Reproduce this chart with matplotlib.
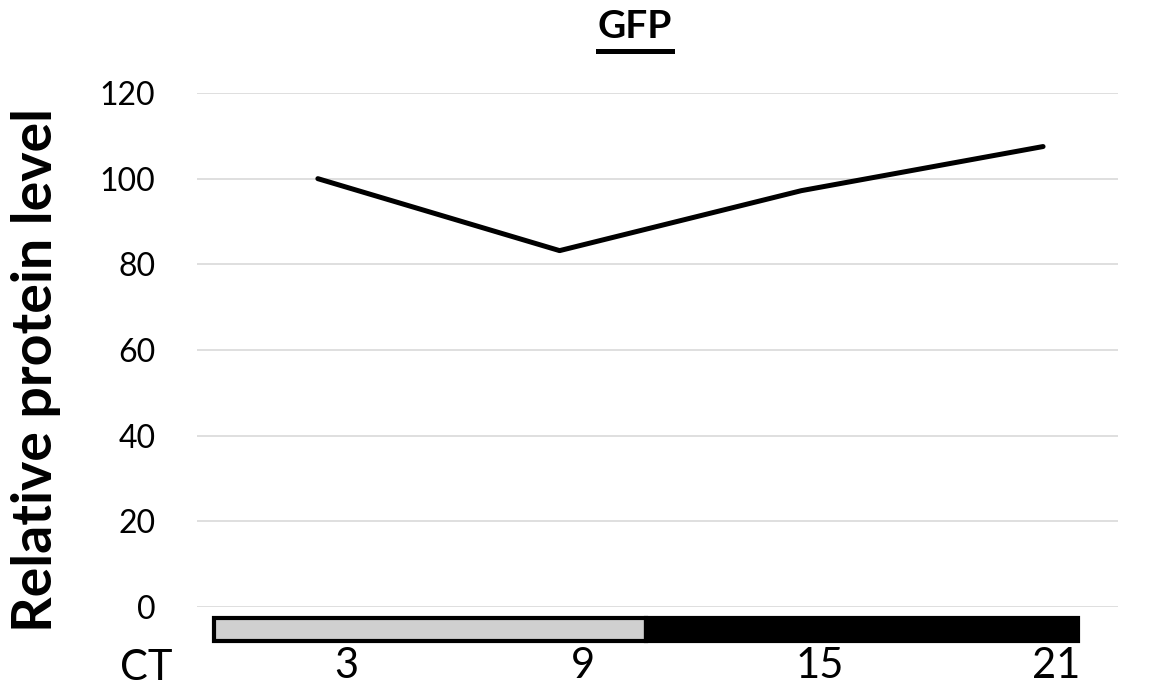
import matplotlib
matplotlib.use("Agg")
import matplotlib.pyplot as plt
from matplotlib.lines import Line2D

plt.rcParams['font.family'] = ['Lato', 'DejaVu Sans']

# data
ct_hours = [3, 9, 15, 21]
ct_labels = ['3', '9', '15', '21']
protein_level = [100, 83.2, 97.2, 107.5]
y_ticks = [0, 20, 40, 60, 80, 100, 120]
# light / dark phases (start, end, colour)
phase_start = [0, 12]
phase_end = [12, 24]
phase_color = ['#d0d0d0', 'black']

W, H = 1160, 693
fig = plt.figure(figsize=(W / 100, H / 100), dpi=100)

# main plot area
ax = fig.add_axes([197 / W, (H - 607) / H, 921 / W, 514 / H])
ax.plot(ct_hours, protein_level, color='black', lw=3.6,
        solid_capstyle='round', solid_joinstyle='round', zorder=3)
ax.set_xlim(0, 22.86)
ax.set_ylim(0, 120)
ax.set_yticks(y_ticks)
ax.set_yticklabels([str(t) for t in y_ticks])
ax.set_xticks([])
ax.grid(axis='y', color='#d9d9d9', lw=1.2)
ax.tick_params(axis='y', length=0, pad=30, labelsize=23)
for s in ax.spines.values():
    s.set_visible(False)
ax.set_ylabel('Relative protein level', fontsize=40, fontweight='bold')
ax.yaxis.set_label_coords(-0.148, 0.461)

# light/dark bar under the plot
axb = fig.add_axes([214 / W, (H - 641) / H, 864 / W, 23 / H])
for a, b, c in zip(phase_start, phase_end, phase_color):
    axb.barh(0.5, b - a, left=a, height=1, color=c,
             edgecolor='black', lw=3, clip_on=False)
axb.set_xlim(0, 24)
axb.set_ylim(0, 1)
axb.axis('off')

# CT labels row
axl = fig.add_axes([346 / W, (H - 690) / H, 710 / W, 40 / H])
axl.set_xlim(3, 21)
axl.set_ylim(0, 1)
axl.axis('off')
for x, lab in zip(ct_hours, ct_labels):
    axl.text(x, 0.6, lab, ha='center', va='center', fontsize=30)
fig.text(146 / W, (H - 668) / H, 'CT', ha='center', va='center', fontsize=30)

# underlined title
title = fig.text(635 / W, (H - 38) / H, 'GFP', ha='center', va='baseline',
                 fontsize=28, fontweight='bold')
fig.canvas.draw()
bb = title.get_window_extent()
uy = (H - 51) / H
fig.add_artist(Line2D([bb.x0 / W, bb.x1 / W], [uy, uy], color='black',
                      lw=3.6, transform=fig.transFigure))

fig.savefig('out.png', dpi=100)
